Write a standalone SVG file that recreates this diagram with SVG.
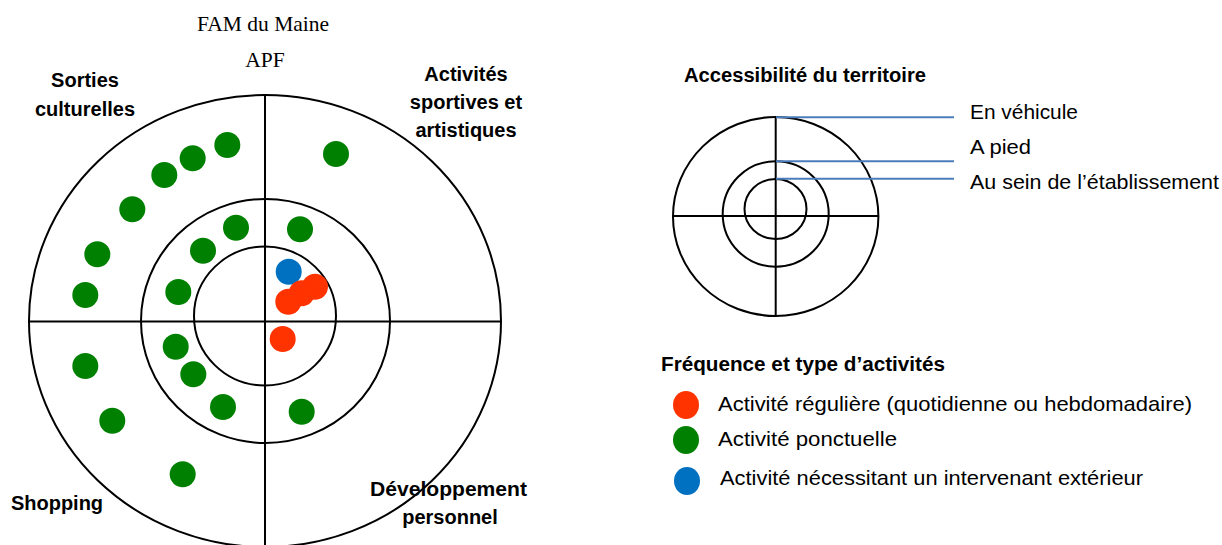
<svg xmlns="http://www.w3.org/2000/svg" width="1222" height="545" viewBox="0 0 1222 545">
<style>
.ring{fill:none;stroke:#000;stroke-width:2}
.axis{stroke:#000;stroke-width:2}
.lead{stroke:#4a7ebb;stroke-width:2}
.g{fill:#008000}
.r{fill:#ff3300}
.b{fill:#0070c0}
.title{font-family:"Liberation Serif","Times New Roman",serif;font-size:21.5px;fill:#000}
.lbl{font-family:"Liberation Sans",Arial,sans-serif;font-size:20px;font-weight:bold;fill:#000}
.txt{font-family:"Liberation Sans",Arial,sans-serif;font-size:21px;fill:#000}
</style>
<rect width="1222" height="545" fill="#fff"/>
<g id="titles">
<text class="title" x="263" y="31" text-anchor="middle">FAM du Maine</text>
<text class="title" x="265" y="67" text-anchor="middle">APF</text>
</g>
<g id="target">
<ellipse class="ring" cx="265" cy="321" rx="236" ry="226"/>
<ellipse class="ring" cx="265.5" cy="321" rx="124.5" ry="122"/>
<ellipse class="ring" cx="265" cy="316" rx="71" ry="69.5"/>
<line class="axis" x1="29" y1="321.5" x2="500" y2="321.5"/>
<line class="axis" x1="265" y1="95" x2="265" y2="545"/>
</g>
<g id="sector-labels">
<text class="lbl" x="85" y="87" text-anchor="middle">Sorties</text>
<text class="lbl" x="85" y="116" text-anchor="middle">culturelles</text>
<text class="lbl" x="466" y="81" text-anchor="middle">Activités</text>
<text class="lbl" x="466" y="109" text-anchor="middle">sportives et</text>
<text class="lbl" x="466" y="137" text-anchor="middle">artistiques</text>
<text class="lbl" x="57" y="510" text-anchor="middle">Shopping</text>
<text class="lbl" x="370" y="496" textLength="157" lengthAdjust="spacingAndGlyphs">Développement</text>
<text class="lbl" x="450" y="524" text-anchor="middle">personnel</text>
</g>
<g id="dots">
<circle class="g" cx="227.3" cy="145" r="13"/>
<circle class="g" cx="192.7" cy="158.3" r="13"/>
<circle class="g" cx="164.3" cy="175" r="13"/>
<circle class="g" cx="132.3" cy="209.3" r="13"/>
<circle class="g" cx="97.3" cy="254.3" r="13"/>
<circle class="g" cx="85.3" cy="295" r="13"/>
<circle class="g" cx="336" cy="154" r="13"/>
<circle class="g" cx="236" cy="227.7" r="13"/>
<circle class="g" cx="203" cy="250.7" r="13"/>
<circle class="g" cx="178.3" cy="292" r="13"/>
<circle class="g" cx="300" cy="229.3" r="13"/>
<circle class="g" cx="175.7" cy="346.7" r="13"/>
<circle class="g" cx="193.3" cy="374.3" r="13"/>
<circle class="g" cx="223" cy="407" r="13"/>
<circle class="g" cx="301.7" cy="411.7" r="13"/>
<circle class="g" cx="85.3" cy="366" r="13"/>
<circle class="g" cx="112.3" cy="420.7" r="13"/>
<circle class="g" cx="182.7" cy="474.3" r="13"/>
<circle class="b" cx="288.7" cy="271.7" r="13"/>
<circle class="r" cx="315" cy="286.7" r="13"/>
<circle class="r" cx="301.7" cy="293.3" r="13"/>
<circle class="r" cx="288.3" cy="301.7" r="13"/>
<circle class="r" cx="282.7" cy="339" r="13"/>
</g>
<g id="accessibility-legend">
<text class="lbl" x="684" y="82" textLength="242" lengthAdjust="spacingAndGlyphs">Accessibilité du territoire</text>
<ellipse class="ring" cx="775.7" cy="216.5" rx="102.7" ry="99.5"/>
<ellipse class="ring" cx="775.7" cy="214" rx="53" ry="52.7"/>
<ellipse class="ring" cx="775.5" cy="209" rx="31" ry="30"/>
<line class="axis" x1="673" y1="216" x2="878.4" y2="216"/>
<line class="axis" x1="775.7" y1="117" x2="775.7" y2="316"/>
</g>
<g id="connectors">
<line class="lead" x1="776" y1="117.3" x2="954" y2="117.3"/>
<line class="lead" x1="776" y1="161.3" x2="954" y2="161.3"/>
<line class="lead" x1="776" y1="178.7" x2="954" y2="178.7"/>
</g>
<g id="accessibility-labels">
<text class="txt" x="970" y="119" textLength="108" lengthAdjust="spacingAndGlyphs">En véhicule</text>
<text class="txt" x="970" y="154" textLength="61" lengthAdjust="spacingAndGlyphs">A pied</text>
<text class="txt" x="970" y="189" textLength="249" lengthAdjust="spacingAndGlyphs">Au sein de l’établissement</text>
</g>
<g id="frequency-legend">
<text class="lbl" x="661" y="371" textLength="284" lengthAdjust="spacingAndGlyphs">Fréquence et type d’activités</text>
<ellipse class="r" cx="686" cy="405" rx="13" ry="14"/>
<text class="txt" x="718" y="411" textLength="474" lengthAdjust="spacingAndGlyphs">Activité régulière (quotidienne ou hebdomadaire)</text>
<ellipse class="g" cx="686" cy="440" rx="13" ry="14"/>
<text class="txt" x="718" y="446" textLength="179" lengthAdjust="spacingAndGlyphs">Activité ponctuelle</text>
<ellipse class="b" cx="687" cy="481" rx="13" ry="14"/>
<text class="txt" x="720" y="485" textLength="423" lengthAdjust="spacingAndGlyphs">Activité nécessitant un intervenant extérieur</text>
</g>
</svg>
